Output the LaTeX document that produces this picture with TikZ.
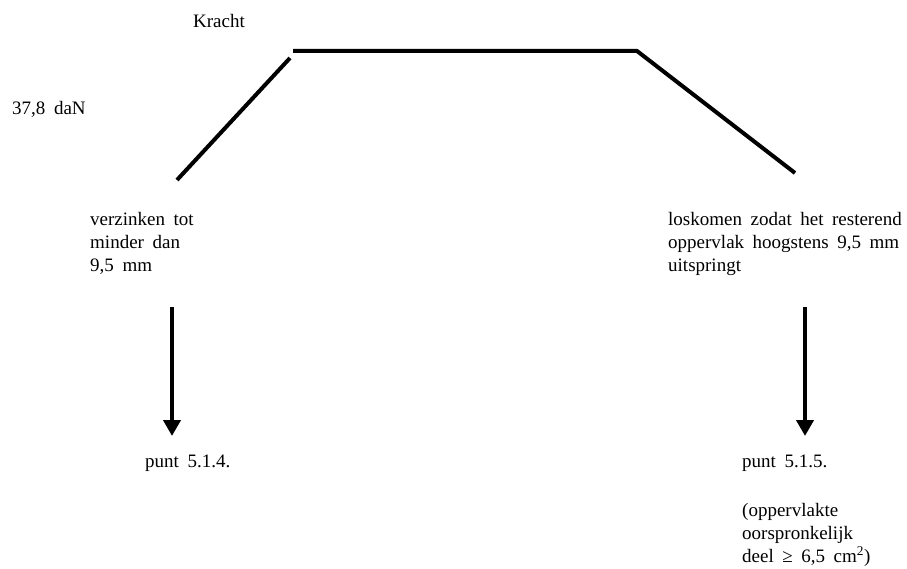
\documentclass[tikz,border=0pt]{standalone}
\usepackage{fontspec}
\setmainfont{Liberation Serif}[WordSpace=1.8]
\usetikzlibrary{arrows.meta}
\begin{document}
\begin{tikzpicture}[x=1pt,y=-1pt,
  lbl/.style={anchor=base west,inner sep=0pt,font=\fontsize{19}{23}\selectfont,align=left},
  profile/.style={line width=4pt,line cap=butt,line join=miter},
  bigarrow/.style={line width=4pt,-{Triangle[width=17pt,length=16pt]}}]
\useasboundingbox (0,0) rectangle (907,569);
% labels (multi-line nodes anchored at the baseline of their last line)
\node[lbl] (kracht) at (193,28) {Kracht};
\node[lbl] (dan) at (12,115) {37,8 daN};
\node[lbl] (left) at (90,272) {verzinken tot\\minder dan\\9,5 mm};
\node[lbl] (right) at (668,272) {loskomen zodat het resterend\\oppervlak hoogstens 9,5 mm\\uitspringt};
\node[lbl] (p514) at (145,467) {punt 5.1.4.};
\node[lbl] (p515) at (742,467) {punt 5.1.5.};
\node[lbl] (opp) at (742,562) {(oppervlakte\\oorspronkelijk\\deel ≥ 6,5 cm\textsuperscript{2})};
% force profile
\coordinate (a1) at (177,180);
\coordinate (a2) at (290,58);
\coordinate (b1) at (293,51);
\coordinate (b2) at (637,51);
\coordinate (b3) at (795,173);
\draw[profile] (a1) -- (a2);
\draw[profile] (b1) -- (b2) -- (b3);
% arrows
\coordinate (la1) at (172,307);
\coordinate (la2) at (172,436);
\coordinate (ra1) at (805,307);
\coordinate (ra2) at (805,436);
\draw[bigarrow] (la1) -- (la2);
\draw[bigarrow] (ra1) -- (ra2);
\end{tikzpicture}
\end{document}
